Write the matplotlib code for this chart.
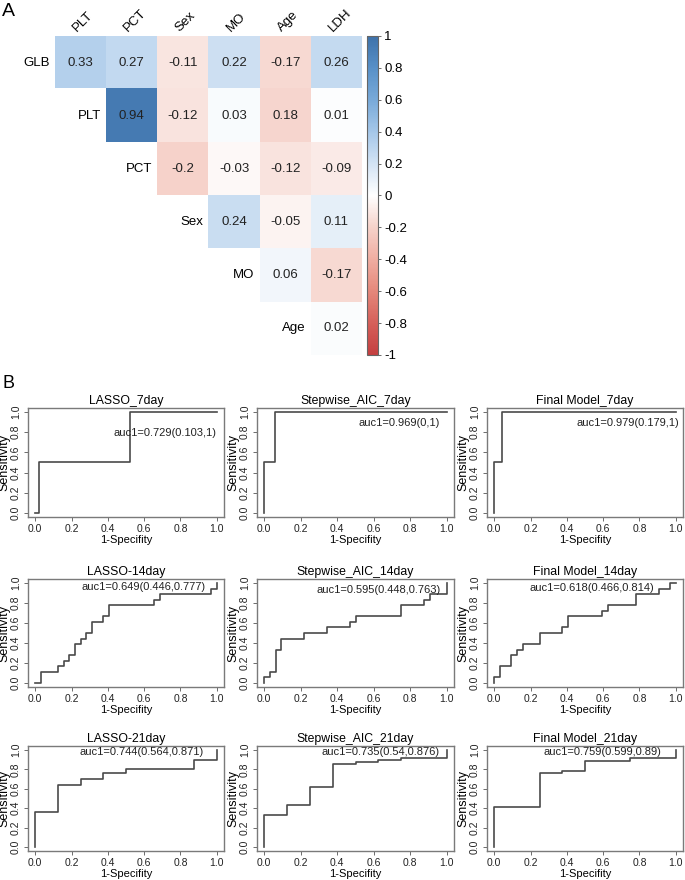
import numpy as np
import matplotlib.pyplot as plt
from matplotlib.colors import LinearSegmentedColormap

plt.rcParams['font.family'] = ['Liberation Sans', 'DejaVu Sans']

# Panel A: correlation matrix (upper triangle)
row_vars = ['GLB', 'PLT', 'PCT', 'Sex', 'MO', 'Age']
col_vars = ['PLT', 'PCT', 'Sex', 'MO', 'Age', 'LDH']
corr_glb = [0.33, 0.27, -0.11, 0.22, -0.17, 0.26]
corr_plt = [0.94, -0.12, 0.03, -0.18, 0.01]
corr_pct = [-0.2, -0.03, -0.12, -0.09]
corr_sex = [0.24, -0.05, 0.11]
corr_mo = [0.06, -0.17]
corr_age = [0.02]
cbar_ticks = [-1, -0.8, -0.6, -0.4, -0.2, 0, 0.2, 0.4, 0.6, 0.8, 1]

# Panel B: ROC curves (1-specificity, sensitivity)
roc_titles = ['LASSO_7day', 'Stepwise_AIC_7day', 'Final Model_7day',
              'LASSO-14day', 'Stepwise_AIC_14day', 'Final Model_14day',
              'LASSO-21day', 'Stepwise_AIC_21day', 'Final Model_21day']
auc_labels = ['auc1=0.729(0.103,1)', 'auc1=0.969(0,1)', 'auc1=0.979(0.179,1)',
              'auc1=0.649(0.446,0.777)', 'auc1=0.595(0.448,0.763)', 'auc1=0.618(0.466,0.814)',
              'auc1=0.744(0.564,0.871)', 'auc1=0.735(0.54,0.876)', 'auc1=0.759(0.599,0.89)']

fpr_lasso_7 = [0, 0.02, 0.52, 1.0]
tpr_lasso_7 = [0, 0.5, 1.0, 1.0]
fpr_step_7 = [0, 0, 0.06, 1.0]
tpr_step_7 = [0, 0.5, 1.0, 1.0]
fpr_final_7 = [0, 0, 0.04, 1.0]
tpr_final_7 = [0, 0.5, 1.0, 1.0]

fpr_lasso_14 = [0, 0.031, 0.125, 0.156, 0.188, 0.219, 0.25, 0.281, 0.313, 0.375, 0.406, 0.656, 0.688, 0.969, 1.0]
tpr_lasso_14 = [0, 0.111, 0.167, 0.222, 0.278, 0.389, 0.444, 0.5, 0.611, 0.667, 0.778, 0.833, 0.889, 0.944, 1.0]
fpr_step_14 = [0, 0, 0.031, 0.063, 0.094, 0.219, 0.344, 0.469, 0.5, 0.75, 0.875, 0.906, 1.0]
tpr_step_14 = [0, 0.056, 0.111, 0.333, 0.444, 0.5, 0.556, 0.611, 0.667, 0.778, 0.833, 0.889, 1.0]
fpr_final_14 = [0, 0, 0.031, 0.094, 0.125, 0.156, 0.25, 0.375, 0.406, 0.594, 0.625, 0.781, 0.906, 0.969, 1.0]
tpr_final_14 = [0, 0.056, 0.167, 0.278, 0.333, 0.389, 0.5, 0.556, 0.667, 0.722, 0.778, 0.889, 0.944, 1.0, 1.0]

fpr_lasso_21 = [0, 0, 0.125, 0.25, 0.375, 0.5, 0.875, 1.0]
tpr_lasso_21 = [0, 0.364, 0.636, 0.70, 0.758, 0.80, 0.894, 1.0]
fpr_step_21 = [0, 0, 0.125, 0.25, 0.375, 0.5, 0.625, 0.75, 1.0]
tpr_step_21 = [0, 0.33, 0.43, 0.62, 0.86, 0.88, 0.90, 0.92, 1.0]
fpr_final_21 = [0, 0, 0.25, 0.375, 0.5, 0.75, 1.0]
tpr_final_21 = [0, 0.41, 0.76, 0.78, 0.89, 0.92, 1.0]

roc_fpr = [fpr_lasso_7, fpr_step_7, fpr_final_7, fpr_lasso_14, fpr_step_14, fpr_final_14,
           fpr_lasso_21, fpr_step_21, fpr_final_21]
roc_tpr = [tpr_lasso_7, tpr_step_7, tpr_final_7, tpr_lasso_14, tpr_step_14, tpr_final_14,
           tpr_lasso_21, tpr_step_21, tpr_final_21]
# where the auc text sits (right edge, data coords)
auc_pos = [(1.0, 0.79), (0.96, 0.89), (1.02, 0.89),
           (0.94, 0.96), (0.97, 0.93), (0.88, 0.95),
           (0.93, 0.98), (0.96, 0.98), (0.92, 0.98)]

W, H = 685, 880
fig = plt.figure(figsize=(W / 100, H / 100), dpi=100)


def px_axes(x0, y0, x1, y1):
    return fig.add_axes([x0 / W, 1 - y1 / H, (x1 - x0) / W, (y1 - y0) / H])


# ---------- Panel A
cmap = LinearSegmentedColormap.from_list('corr', [
    (0.0, '#C43F40'), (0.1, '#D6605A'), (0.2, '#E5887B'), (0.3, '#F0ADA1'),
    (0.4, '#F6D2CA'), (0.5, '#FFFFFF'), (0.6, '#D3E3F4'), (0.7, '#A5C7E9'),
    (0.8, '#79AAD9'), (0.9, '#5890C8'), (1.0, '#3E72AA')])

rows = [corr_glb, corr_plt, corr_pct, corr_sex, corr_mo, corr_age]
n = len(row_vars)
M = np.full((n, n), np.nan)
for i, r in enumerate(rows):
    M[i, i:] = r
labels_text = [[f'{v:g}' for v in r] for r in rows]
labels_text[1][3] = '0.18'  # printed without sign in the original

ax = px_axes(55, 36, 362, 355)
im = ax.imshow(np.ma.masked_invalid(M), cmap=cmap, vmin=-1, vmax=1,
               extent=(0, n, n, 0), aspect='auto', interpolation='nearest')
ax.set_xlim(0, n)
ax.set_ylim(n, 0)
ax.axis('off')
for i in range(n):
    for k, s in enumerate(labels_text[i]):
        ax.text(i + k + 0.5, i + 0.5, s, ha='center', va='center', fontsize=9.5, color='#222222')
    ax.text(i - 0.1, i + 0.5, row_vars[i], ha='right', va='center', fontsize=9.5)
for j, c in enumerate(col_vars):
    ax.text(j + 0.47, -0.04, c, rotation=45, ha='left', va='bottom',
            rotation_mode='anchor', fontsize=9.5)

cax = px_axes(367, 36, 378, 355)
cb = fig.colorbar(im, cax=cax, ticks=cbar_ticks)
cb.ax.set_yticklabels([f'{t:g}' for t in cbar_ticks])
cb.ax.tick_params(labelsize=9.5, length=2.5, width=0.6, pad=2, color='#555555')
cb.outline.set_edgecolor('#666666')
cb.outline.set_linewidth(0.8)

fig.text(2 / W, 1 - 3 / H, 'A', fontsize=14, ha='left', va='top')
fig.text(2 / W, 1 - 375 / H, 'B', fontsize=13, ha='left', va='top')

# ---------- Panel B
col_px = [(28, 224), (257, 454), (487, 683)]
row_px = [(408, 517), (579, 687), (746, 851)]
ticks = [0, 0.2, 0.4, 0.6, 0.8, 1.0]
for idx in range(9):
    r, c = divmod(idx, 3)
    a = px_axes(col_px[c][0], row_px[r][0], col_px[c][1], row_px[r][1])
    a.plot(roc_fpr[idx], roc_tpr[idx], drawstyle='steps-post', color='#4a4a4a', lw=1.2)
    a.set_xlim(-0.04, 1.04)
    a.set_ylim(-0.04, 1.04)
    a.set_xticks(ticks)
    a.set_yticks(ticks)
    a.set_xticklabels([f'{t:.1f}' for t in ticks])
    a.set_yticklabels([f'{t:.1f}' for t in ticks], rotation=90, va='center')
    a.tick_params(labelsize=7.5, length=3, width=0.6, pad=2, color='#555555', labelcolor='#222222')
    for sp in a.spines.values():
        sp.set_color('#7a7a7a')
        sp.set_linewidth(1.0)
    a.set_title(roc_titles[idx], fontsize=8.8, pad=3)
    a.set_xlabel('1-Specifity', fontsize=8, labelpad=0.5)
    a.set_ylabel('Sensitivity', fontsize=9, labelpad=0.5)
    ax_, ay_ = auc_pos[idx]
    a.text(ax_, ay_, auc_labels[idx], ha='right', va='center', fontsize=8, color='#222222')

fig.savefig('out.png', dpi=100)
